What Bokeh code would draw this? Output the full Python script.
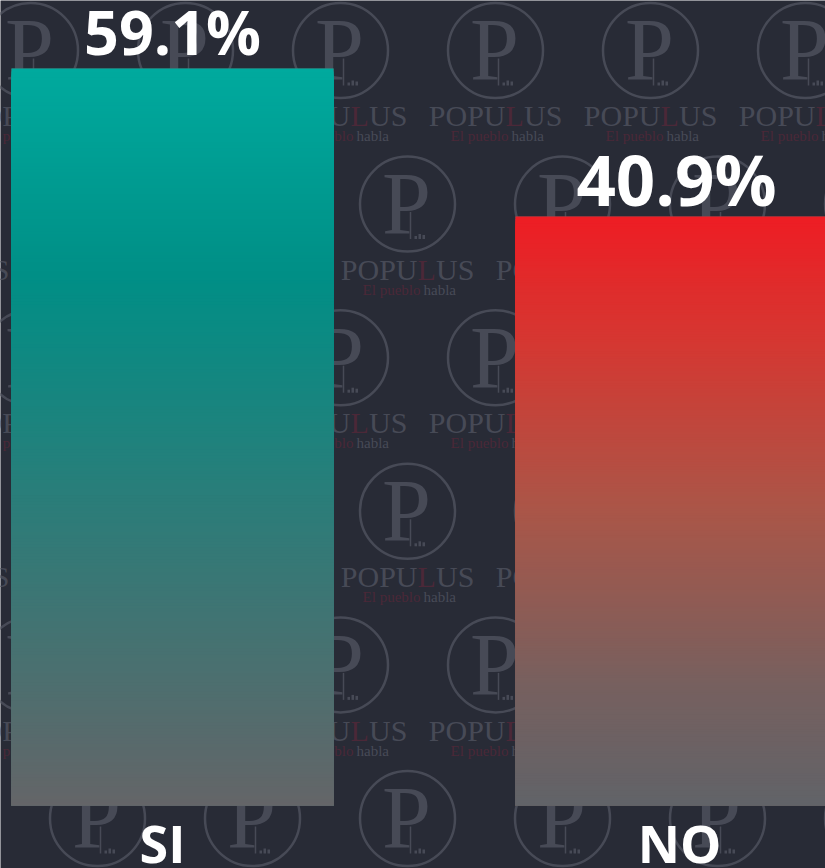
from bokeh.plotting import figure
from bokeh.models import Range1d, ColumnDataSource
from bokeh.core.properties import value
from bokeh.embed import file_html
from bokeh.resources import INLINE

# ---- data ----
categories = ["SI", "NO"]
values = [59.1, 40.9]
value_labels = [f"{v:.1f}%" for v in values]
baseline = -31.5          # value at which the bars start (as drawn in the source)

# ---- styles ----
W, H = 825, 868
BG = "#282b36"
WM_GRAY = "#474a56"
WM_RED = "#4b2838"
GRADIENTS = [[(0, (0, 170, 158)), (0.28, (0, 143, 134)), (1.0, (100, 101, 104))],
             [(0, (238, 29, 36)), (0.22, (212, 56, 50)), (0.5, (170, 86, 72)),
              (0.8, (118, 96, 95)), (1.0, (97, 99, 104))]]
label_sizes = ["61px", "69px"]
cat_offsets = [-10, 3]
bar_width = 0.639
SHIFT = 0.36   # baseline correction (em) for the svg text placement

X0, X1 = -0.3413, 1.2956
Y0, Y1 = -39.28, 67.46

p = figure(width=W, height=H, x_range=Range1d(X0, X1), y_range=Range1d(Y0, Y1),
           output_backend="svg", toolbar_location=None,
           x_axis_location=None, y_axis_location=None, min_border=0)
p.grid.visible = False
p.outline_line_color = None
p.background_fill_color = BG
p.border_fill_color = BG


def px2x(px):
    return X0 + px * (X1 - X0) / W


def px2y(py):
    return Y1 - py * (Y1 - Y0) / H


# ---- watermark (decoration) ----
cx_list, cy_list = [], []
row_y = [50 + 153.6 * i for i in range(6)]
for i, ry in enumerate(row_y):
    start = 30 if i % 2 == 0 else -58
    for k in range(7):
        c = start + 155 * k
        if -70 < c < 895:
            cx_list.append(c)
            cy_list.append(ry)

wx = [px2x(c) for c in cx_list]
n = len(wx)


def wtext(dx, dy, txt, size, color, align, style="normal"):
    p.text([px2x(c + dx) for c in cx_list], [px2y(c + dy - SHIFT * size) for c in cy_list],
           text=[txt] * n, text_font=value("Liberation Serif"), text_font_size=f"{size}px",
           text_font_style=style, text_color=color, text_align=align,
           text_baseline="alphabetic")


p.scatter(wx, [px2y(c) for c in cy_list], marker="circle", size=95,
          fill_color=None, line_color=WM_GRAY, line_width=2.5)
wtext(-1, 31, "P", 88, WM_GRAY, "center")
p.segment([px2x(c + 3) for c in cx_list], [px2y(c + 8) for c in cy_list],
          [px2x(c + 3) for c in cx_list], [px2y(c + 35) for c in cy_list],
          line_color=WM_GRAY, line_width=1.5)
for dx, hgt in [(7, 3), (11, 5), (15, 4)]:
    p.quad(left=[px2x(c + dx) for c in cx_list], right=[px2x(c + dx + 2.5) for c in cx_list],
           top=[px2y(c + 35 - hgt) for c in cy_list], bottom=[px2y(c + 35) for c in cy_list],
           fill_color=WM_GRAY, line_color=None)
wtext(10, 76, "POPU", 30, WM_GRAY, "right")
wtext(10, 76, "L", 30, WM_RED, "left")
wtext(28.5, 76, "US", 30, WM_GRAY, "left")
wtext(13, 91, "El pueblo", 15, WM_RED, "right")
wtext(16, 91, "habla", 15, WM_GRAY, "left")

# ---- bars ----
xs = list(range(len(categories)))
src = ColumnDataSource(dict(x=xs, top=values, cat=categories, lab=value_labels,
                            size=label_sizes, off=cat_offsets))
p.vbar(x="x", top="top", bottom=baseline, width=bar_width, source=src,
       fill_color="#636568", line_color=None)


def interp(stops, t):
    for (t0, c0), (t1, c1) in zip(stops[:-1], stops[1:]):
        if t0 <= t <= t1:
            f = (t - t0) / (t1 - t0) if t1 > t0 else 0
            return "#%02x%02x%02x" % tuple(int(round(a + (b - a) * f)) for a, b in zip(c0, c1))
    return "#%02x%02x%02x" % stops[-1][1]


# gradient: slices from each level down to the baseline, painted top to bottom
N = 240
gl, gr, gt, gb, gc = [], [], [], [], []
for i, (x, v) in enumerate(zip(xs, values)):
    span = v - baseline
    for j in range(N):
        gl.append(x - bar_width / 2)
        gr.append(x + bar_width / 2)
        gt.append(v - span * j / N)
        gb.append(baseline)
        gc.append(interp(GRADIENTS[i], (j + 0.5) / N))
p.quad(left=gl, right=gr, top=gt, bottom=gb, fill_color=gc, line_color=None)

# ---- labels ----
p.text(x="x", y="top", text="lab", source=src, text_font=value("Open Sans"),
       text_font_style="bold", text_font_size="size", text_color="white",
       text_align="center", text_baseline="alphabetic", y_offset=-37)
p.text(x="x", y=baseline, text="cat", source=src, text_font=value("Open Sans"),
       text_font_style="bold", text_font_size="52px", text_color="white",
       text_align="center", text_baseline="alphabetic", y_offset=37, x_offset="off")

open("out.html", "w").write(file_html(p, INLINE))
